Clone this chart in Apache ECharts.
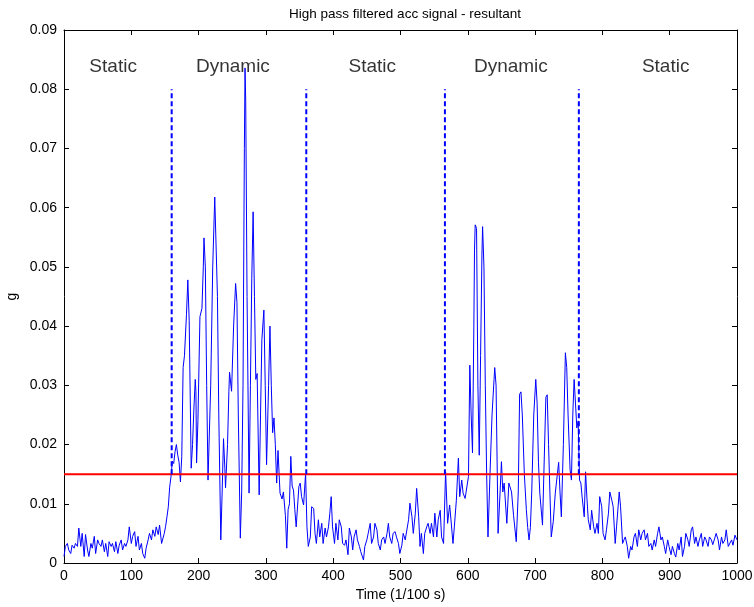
<!DOCTYPE html>
<html>
<head>
<meta charset="utf-8">
<script src="https://cdn.jsdelivr.net/npm/echarts@6/dist/echarts.min.js"></script>
<style>
html,body{margin:0;padding:0;background:#fff;}
#chart{width:754px;height:607px;}
</style>
</head>
<body>
<div id="chart"></div>
<script>
// ---- data ----
const chartTitle = 'High pass filtered acc signal - resultant';
const xAxisName = 'Time (1/100 s)';
const yAxisName = 'g';
const xTicks = [0,100,200,300,400,500,600,700,800,900,1000];
const yTicks = [0,0.01,0.02,0.03,0.04,0.05,0.06,0.07,0.08,0.09];

const timeIdx = [
0,2,5,7,10,12,15,17,20,22,25,27,30,32,35,37,40,42,45,47,50,52,55,57,60,62,65,67,70,72,
75,77,80,82,85,87,90,92,95,97,100,102,105,107,110,112,115,117,120,122,125,127,130,132,135,137,140,142,145,
147,149,151,153,155,157,159,161,163,165,167,169,171,173,175,177,179,182,184,186,189,191,193,195,196,197,199,
202,205,207,208,210,212,214,216,218,221,224,226,228,230,233,235,237,239,240,243,245,246,249,252,255,257,259,
262,264,266,268,269,270,272,275,277,279,281,283,285,287,290,292,294,296,297,299,301,304,306,308,310,312,314,
316,318,321,324,326,329,331,333,335,337,339,341,343,345,347,349,351,353,356,359,
361,363,366,368,371,373,375,378,380,383,385,388,390,393,395,397,399,402,404,407,409,412,414,417,419,422,424,
427,429,431,434,436,439,441,445,447,450,452,455,457,460,462,465,467,470,472,475,477,480,482,484,487,489,492,
494,497,499,502,504,507,509,512,514,517,519,522,524,527,529,531,534,536,539,541,544,546,549,551,554,556,559,
561,564,567,570,573,575,578,580,583,586,588,591,593,596,598,601,
603,605,607,609,610,611,613,615,617,619,621,622,624,626,628,630,633,636,639,640,642,645,648,650,652,654,656,
658,661,663,665,668,672,675,677,679,681,684,687,689,691,693,695,698,701,703,705,707,709,711,713,716,718,720,
722,724,727,730,732,735,737,739,742,745,747,749,752,754,756,758,760,762,764,766,768,770,773,775,777,779,782,
784,787,789,792,794,796,799,801,804,806,809,811,814,816,819,821,825,827,830,832,834,837,839,842,844,847,849,
852,854,857,859,862,864,867,869,872,874,877,879,882,884,887,889,892,894,897,899,902,904,907,909,912,914,917,
919,922,924,927,929,932,934,937,939,942,944,947,949,952,954,957,959,962,964,967,969,972,974,977,979,982,984,
987,989,992,994,997,1000
];

const accG = [
0.0011,0.0028,0.0033,0.0022,0.0016,0.0030,0.0025,0.0033,0.0028,0.0059,0.0028,0.0050,0.0011,0.0048,0.0022,0.0011,
0.0033,0.0025,0.0045,0.0016,0.0039,0.0033,0.0028,0.0039,0.0019,0.0033,0.0011,0.0036,0.0028,0.0033,0.0019,0.0036,
0.0016,0.0030,0.0039,0.0022,0.0033,0.0028,0.0039,0.0061,0.0033,0.0045,0.0053,0.0028,0.0045,0.0022,0.0033,0.0016,
0.0008,0.0025,0.0039,0.0050,0.0039,0.0056,0.0045,0.0061,0.0048,0.0064,0.0033,
0.0034,0.0050,0.0062,0.0078,0.0095,0.0128,0.0146,0.0172,0.0168,0.0188,0.0200,0.0182,0.0170,0.0137,0.0180,0.0330,
0.0350,0.0420,0.0478,0.0410,0.0160,0.0200,0.0260,0.0310,0.0290,0.0169,0.0240,
0.0416,0.0430,0.0500,0.0549,0.0500,0.0300,0.0140,0.0140,0.0300,0.0500,0.0618,0.0621,0.0450,0.0250,0.0039,0.0120,
0.0210,0.0160,0.0127,0.0200,0.0290,0.0322,0.0290,0.0400,0.0472,0.0440,0.0250,
0.0042,0.0120,0.0300,0.0700,0.0836,0.0780,0.0450,0.0118,0.0300,0.0480,0.0593,0.0450,0.0310,0.0320,0.0115,0.0250,
0.0377,0.0380,0.0427,0.0300,0.0166,0.0300,0.0400,0.0300,0.0220,0.0245,0.0200,
0.0135,0.0190,0.0118,0.0108,0.0120,0.0080,0.0025,0.0090,0.0100,0.0180,0.0130,0.0123,0.0090,0.0061,0.0062,0.0129,
0.0135,0.0112,0.0098,0.0151,
0.0061,0.0028,0.0044,0.0095,0.0092,0.0050,0.0033,0.0073,0.0044,0.0067,0.0033,0.0059,0.0044,0.0061,0.0084,0.0112,
0.0061,0.0033,0.0067,0.0039,0.0073,0.0061,0.0033,0.0030,0.0039,0.0014,0.0059,
0.0044,0.0022,0.0044,0.0056,0.0039,0.0028,0.0019,0.0005,0.0028,0.0039,0.0050,0.0067,0.0033,0.0044,0.0067,0.0056,
0.0033,0.0022,0.0039,0.0044,0.0033,0.0050,0.0067,0.0044,0.0033,0.0050,0.0053,
0.0044,0.0033,0.0016,0.0030,0.0050,0.0039,0.0039,0.0073,0.0101,0.0078,0.0050,0.0084,0.0126,0.0078,0.0028,0.0050,
0.0016,0.0050,0.0061,0.0067,0.0050,0.0067,0.0044,0.0084,0.0044,0.0073,0.0089,
0.0044,0.0033,0.0154,0.0067,0.0098,0.0073,0.0033,0.0061,0.0106,0.0177,0.0112,0.0140,0.0118,0.0109,0.0106,0.0146,
0.0334,0.0250,0.0186,0.0400,0.0530,0.0571,0.0565,0.0300,0.0182,0.0350,0.0520,0.0568,0.0500,0.0300,0.0150,0.0044,
0.0150,0.0250,0.0310,0.0330,0.0300,0.0050,0.0120,0.0171,0.0120,0.0135,0.0135,
0.0067,0.0135,0.0135,0.0120,0.0080,0.0036,0.0120,0.0285,0.0289,0.0250,0.0150,0.0090,0.0060,0.0039,0.0060,0.0120,
0.0250,0.0310,0.0270,0.0170,0.0118,0.0120,0.0064,0.0150,0.0280,0.0284,0.0200,
0.0120,0.0044,0.0070,0.0118,0.0118,0.0170,0.0120,0.0078,0.0200,0.0355,0.0330,0.0250,0.0157,0.0140,0.0250,0.0310,
0.0270,0.0228,0.0240,0.0140,0.0135,0.0110,0.0078,0.0154,0.0110,0.0073,0.0056,
0.0089,0.0061,0.0050,0.0067,0.0050,0.0112,0.0095,0.0050,0.0039,0.0056,0.0084,0.0120,0.0106,0.0095,0.0033,0.0061,
0.0120,0.0095,0.0033,0.0039,0.0044,0.0028,0.0008,0.0028,0.0022,0.0044,0.0050,
0.0028,0.0056,0.0039,0.0050,0.0056,0.0039,0.0050,0.0028,0.0033,0.0022,0.0039,0.0028,0.0050,0.0061,0.0039,0.0044,
0.0028,0.0016,0.0039,0.0028,0.0014,0.0028,0.0016,0.0010,0.0033,0.0022,0.0044,
0.0011,0.0028,0.0050,0.0039,0.0028,0.0056,0.0061,0.0033,0.0044,0.0028,0.0039,0.0050,0.0028,0.0044,0.0039,0.0028,
0.0044,0.0039,0.0031,0.0042,0.0050,0.0039,0.0022,0.0044,0.0033,0.0039,0.0056,
0.0028,0.0025,0.0039,0.0030,0.0047,0.0039
];

const threshold = 0.015;
const boundaries = [160, 360, 566, 765];
const boundaryTop = 0.08;
const regionNames = ['Static', 'Dynamic', 'Static', 'Dynamic', 'Static'];
const regionX = [73, 251, 458, 664, 894];
const regionY = 0.0838;

// ---- chart ----
const FONT = '"Liberation Sans", Arial, Helvetica, sans-serif';
const chart = echarts.init(document.getElementById('chart'), null, {renderer: 'canvas'});
const signal = timeIdx.map((t, i) => [t, accG[i]]);

function axisBase(extra) {
  return Object.assign({
    type: 'value',
    axisLine: {show: true, onZero: false, lineStyle: {color: '#000', width: 1}},
    axisTick: {show: true, inside: true, length: 5, lineStyle: {color: '#000', width: 1}},
    splitLine: {show: false}
  }, extra);
}

const series = [
  {
    type: 'line', name: 'signal', data: signal, showSymbol: false, symbol: 'none',
    lineStyle: {color: '#0000ff', width: 1}, animation: false, z: 3
  },
  {
    type: 'line', name: 'threshold', data: [[xTicks[0], threshold], [xTicks[xTicks.length - 1], threshold]],
    showSymbol: false, symbol: 'none', lineStyle: {color: '#ff0000', width: 2}, animation: false, z: 4
  }
];
boundaries.forEach(b => {
  series.push({
    type: 'line', data: [[b, threshold], [b, boundaryTop]], showSymbol: false, symbol: 'none',
    lineStyle: {color: '#0000ff', width: 2, type: [5, 3]}, animation: false, z: 5
  });
});
series.push({
  type: 'scatter', symbolSize: 0, animation: false, silent: true,
  data: regionNames.map((n, i) => ({name: n, value: [regionX[i], regionY]})),
  label: {show: true, position: 'inside', formatter: p => p.name, color: '#000',
          fontFamily: FONT, fontSize: 19}
});

chart.setOption({
  animation: false,
  backgroundColor: '#fff',
  title: {
    text: chartTitle, left: 400, top: 2, textAlign: 'center',
    textStyle: {fontFamily: FONT, fontSize: 13.5, fontWeight: 'normal', color: '#000'}
  },
  grid: {left: 64, right: 17, top: 30, bottom: 44, containLabel: false, outerBoundsMode: 'none'},
  xAxis: [
    axisBase({
      min: xTicks[0], max: xTicks[xTicks.length - 1], interval: 100, position: 'bottom',
      name: xAxisName, nameLocation: 'middle', nameGap: 21,
      nameTextStyle: {fontFamily: FONT, fontSize: 14, color: '#000'},
      axisLabel: {fontFamily: FONT, fontSize: 14, color: '#000', margin: 6, formatter: v => String(v)}
    }),
    axisBase({
      min: xTicks[0], max: xTicks[xTicks.length - 1], interval: 100, position: 'top',
      axisLabel: {show: false}
    })
  ],
  yAxis: [
    axisBase({
      min: yTicks[0], max: yTicks[yTicks.length - 1], interval: 0.01, position: 'left',
      name: yAxisName, nameLocation: 'middle', nameGap: 43, nameRotate: 90,
      nameTextStyle: {fontFamily: FONT, fontSize: 14, color: '#000'},
      axisLabel: {fontFamily: FONT, fontSize: 14, color: '#000', margin: 7,
                  formatter: v => String(parseFloat(v.toFixed(2)))}
    }),
    axisBase({
      min: yTicks[0], max: yTicks[yTicks.length - 1], interval: 0.01, position: 'right',
      axisLabel: {show: false}
    })
  ],
  series: series
});
</script>
</body>
</html>
